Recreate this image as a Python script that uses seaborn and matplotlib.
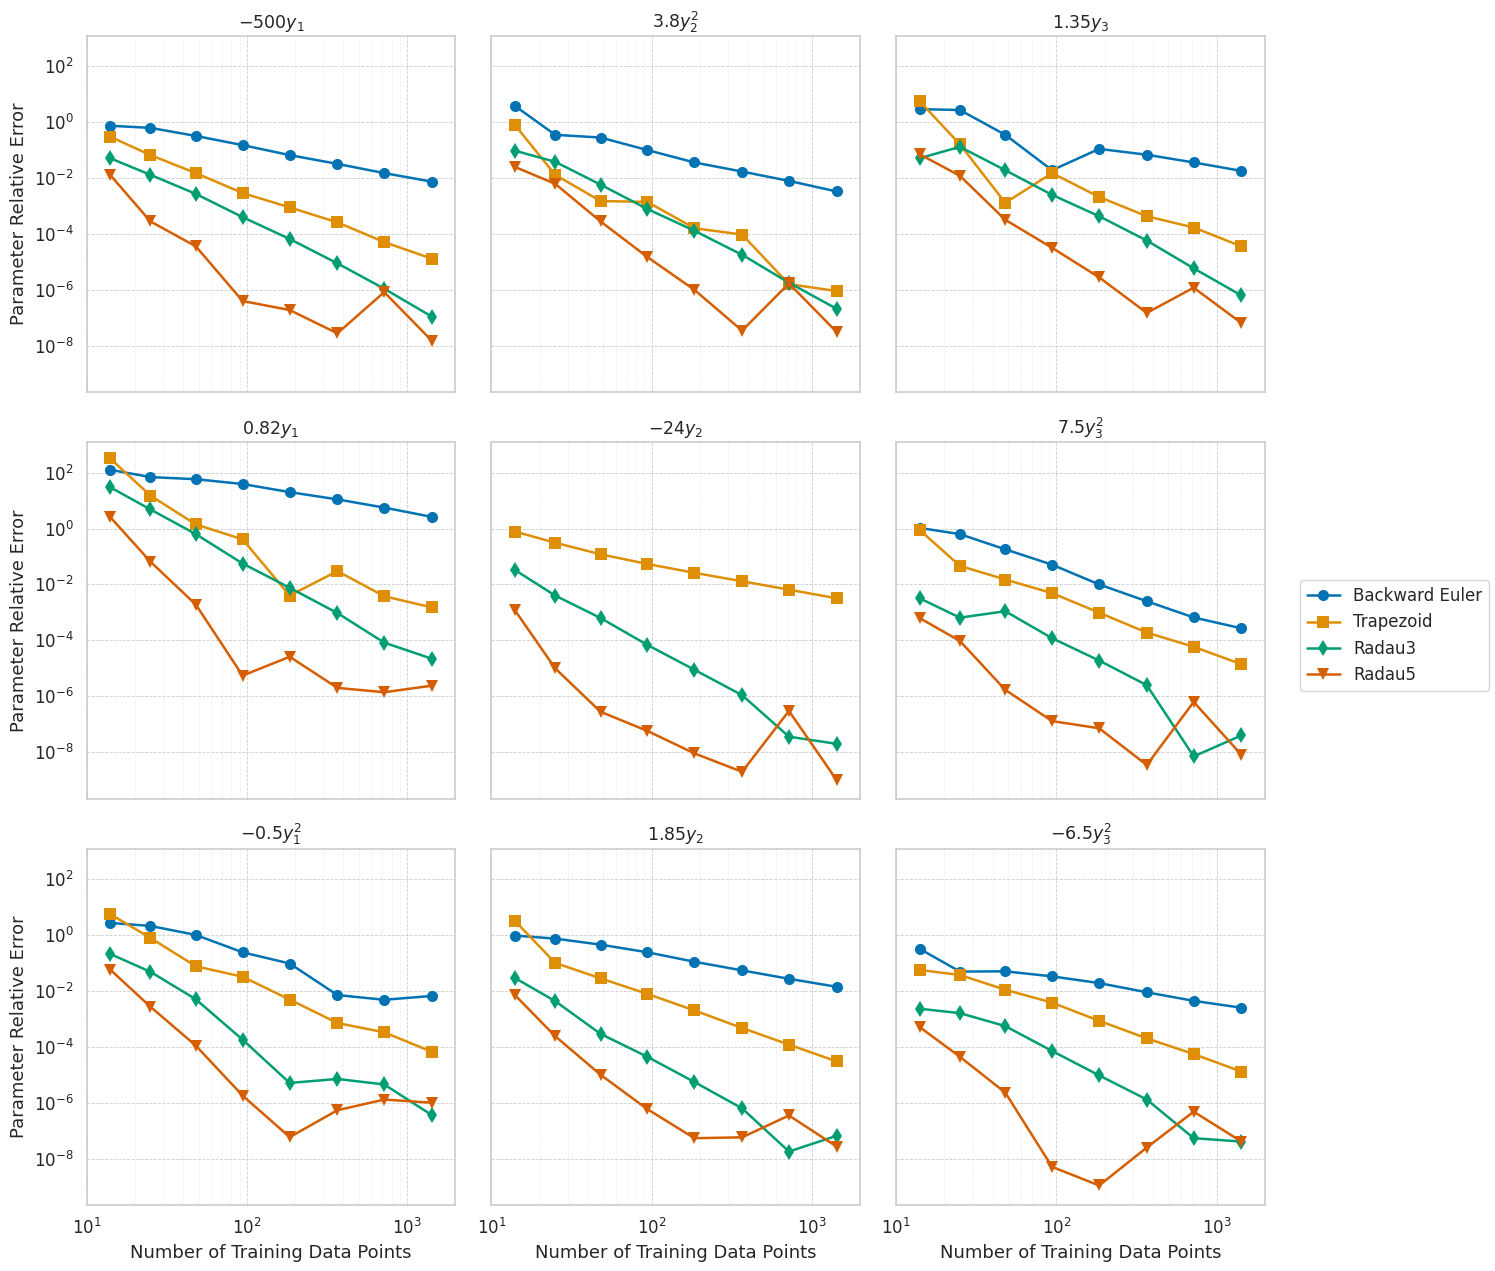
import numpy as np
import seaborn as sns
import matplotlib
matplotlib.use('Agg')
import matplotlib.pyplot as plt

n_points = [14, 25, 48, 94, 185, 367, 720, 1430]
methods = ['Backward Euler', 'Trapezoid', 'Radau3', 'Radau5']
markers = ['o', 's', 'd', 'v']
titles = [r'$-500y_1$', r'$3.8y_2^2$', r'$1.35y_3$',
          r'$0.82y_1$', r'$-24y_2$', r'$7.5y_3^2$',
          r'$-0.5y_1^2$', r'$1.85y_2$', r'$-6.5y_3^2$']
nan = np.nan

# errors per panel: backward euler, trapezoid, radau3, radau5
err_p1 = [[7.4e-1, 6.2e-1, 3.2e-1, 1.5e-1, 6.6e-2, 3.2e-2, 1.5e-2, 7.4e-3],
          [3.0e-1, 6.6e-2, 1.5e-2, 2.9e-3, 8.9e-4, 2.6e-4, 5.1e-5, 1.3e-5],
          [5.1e-2, 1.3e-2, 2.7e-3, 4.0e-4, 6.6e-5, 8.9e-6, 1.1e-6, 1.1e-7],
          [1.3e-2, 2.8e-4, 3.6e-5, 4.0e-7, 1.9e-7, 2.8e-8, 8.3e-7, 1.5e-8]]
err_p2 = [[3.8e0, 3.5e-1, 2.8e-1, 1.0e-1, 3.6e-2, 1.7e-2, 7.9e-3, 3.3e-3],
          [7.9e-1, 1.3e-2, 1.5e-3, 1.4e-3, 1.6e-4, 9.5e-5, 1.6e-6, 9.1e-7],
          [9.5e-2, 3.8e-2, 5.8e-3, 7.8e-4, 1.3e-4, 1.8e-5, 1.8e-6, 2.1e-7],
          [2.5e-2, 6.2e-3, 2.8e-4, 1.5e-5, 1.0e-6, 3.5e-8, 1.7e-6, 3.1e-8]]
err_p3 = [[2.9e0, 2.7e0, 3.5e-1, 1.9e-2, 1.1e-1, 6.8e-2, 3.6e-2, 1.8e-2],
          [5.6e0, 1.6e-1, 1.3e-3, 1.5e-2, 2.1e-3, 4.3e-4, 1.7e-4, 3.6e-5],
          [5.1e-2, 1.3e-1, 1.9e-2, 2.5e-3, 4.3e-4, 5.8e-5, 5.9e-6, 6.3e-7],
          [7.1e-2, 1.2e-2, 3.2e-4, 3.2e-5, 2.8e-6, 1.5e-7, 1.2e-6, 6.5e-8]]
err_p4 = [[1.26e2, 6.9e1, 5.8e1, 3.9e1, 2.0e1, 1.1e1, 5.6e0, 2.6e0],
          [3.2e2, 1.5e1, 1.4e0, 4.1e-1, 4.0e-3, 3.0e-2, 3.8e-3, 1.5e-3],
          [3.0e1, 4.8e0, 6.3e-1, 5.6e-2, 7.6e-3, 9.5e-4, 8.3e-5, 2.2e-5],
          [2.6e0, 6.5e-2, 1.9e-3, 5.5e-6, 2.6e-5, 2.0e-6, 1.4e-6, 2.4e-6]]
err_p5 = [[nan, nan, nan, nan, nan, nan, nan, nan],
          [7.8e-1, 3.1e-1, 1.2e-1, 5.4e-2, 2.6e-2, 1.3e-2, 6.5e-3, 3.2e-3],
          [3.3e-2, 4.0e-3, 6.3e-4, 6.9e-5, 8.9e-6, 1.1e-6, 3.6e-8, 2.0e-8],
          [1.2e-3, 1.0e-5, 2.8e-7, 5.8e-8, 9.1e-9, 2.0e-9, 3.0e-7, 1.0e-9]]
err_p6 = [[1.05e0, 6.3e-1, 1.8e-1, 5.1e-2, 1.0e-2, 2.5e-3, 6.6e-4, 2.7e-4],
          [8.9e-1, 4.6e-2, 1.5e-2, 4.9e-3, 9.8e-4, 1.9e-4, 5.9e-5, 1.4e-5],
          [3.2e-3, 6.5e-4, 1.1e-3, 1.2e-4, 1.9e-5, 2.5e-6, 7.1e-9, 4.0e-8],
          [6.3e-4, 9.5e-5, 1.7e-6, 1.3e-7, 7.2e-8, 3.5e-9, 6.3e-7, 8.1e-9]]
err_p7 = [[2.7e0, 2.1e0, 1.0e0, 2.4e-1, 9.5e-2, 7.1e-3, 4.8e-3, 6.6e-3],
          [5.6e0, 7.8e-1, 7.6e-2, 3.2e-2, 4.9e-3, 7.1e-4, 3.3e-4, 6.6e-5],
          [2.1e-1, 4.8e-2, 5.0e-3, 1.8e-4, 5.1e-6, 7.1e-6, 4.5e-6, 3.6e-7],
          [5.8e-2, 2.7e-3, 1.1e-4, 1.8e-6, 5.9e-8, 5.4e-7, 1.3e-6, 1.0e-6]]
err_p8 = [[9.5e-1, 7.4e-1, 4.5e-1, 2.4e-1, 1.1e-1, 5.4e-2, 2.7e-2, 1.4e-2],
          [3.2e0, 1.0e-1, 2.8e-2, 7.8e-3, 2.0e-3, 4.7e-4, 1.2e-4, 3.0e-5],
          [2.9e-2, 4.3e-3, 2.9e-4, 4.4e-5, 5.5e-6, 6.3e-7, 1.8e-8, 6.6e-8],
          [7.1e-3, 2.4e-4, 1.0e-5, 5.9e-7, 5.4e-8, 5.8e-8, 3.5e-7, 2.7e-8]]
err_p9 = [[3.2e-1, 4.9e-2, 5.0e-2, 3.3e-2, 1.9e-2, 8.9e-3, 4.4e-3, 2.5e-3],
          [5.6e-2, 3.7e-2, 1.1e-2, 3.8e-3, 8.5e-4, 2.0e-4, 5.5e-5, 1.3e-5],
          [2.3e-3, 1.6e-3, 5.5e-4, 7.1e-5, 9.5e-6, 1.3e-6, 5.4e-8, 4.1e-8],
          [5.1e-4, 4.4e-5, 2.3e-6, 5.1e-9, 1.1e-9, 2.5e-8, 4.8e-7, 4.1e-8]]
panels = [err_p1, err_p2, err_p3, err_p4, err_p5, err_p6, err_p7, err_p8, err_p9]

sns.set_theme(style='whitegrid')
colors = sns.color_palette('colorblind', 4)

fig, axes = plt.subplots(3, 3, figsize=(14.95, 12.71), sharex=True, sharey=True)
plt.subplots_adjust(left=0.058, right=0.846, top=0.9717, bottom=0.0519,
                    wspace=0.098, hspace=0.141)

for k, ax in enumerate(axes.flat):
    errs = panels[k]
    for j, name in enumerate(methods):
        y = np.array(errs[j])
        if np.all(np.isnan(y)):
            continue
        sns.lineplot(x=n_points, y=y, ax=ax, color=colors[j], marker=markers[j],
                     markersize=8, markeredgewidth=0, linewidth=1.8, label=name,
                     legend=False)
    ax.set_xscale('log')
    ax.set_yscale('log')
    ax.set_title(titles[k], fontsize=12.5)
    ax.grid(True, which='major', linestyle='--', linewidth=0.6, color='#cccccc')
    ax.grid(True, which='minor', axis='x', linestyle=':', linewidth=0.5, color='#dddddd')
    for s in ax.spines.values():
        s.set_color('#cccccc')
        s.set_linewidth(1.2)
    if k % 3 == 0:
        ax.set_ylabel('Parameter Relative Error', fontsize=13)
    if k >= 6:
        ax.set_xlabel('Number of Training Data Points', fontsize=13)
    ax.tick_params(labelsize=12)

axes[0, 0].set_xlim(10, 2000)
axes[0, 0].set_ylim(2.2e-10, 1.2e3)
axes[0, 0].set_yticks([1e-8, 1e-6, 1e-4, 1e-2, 1e0, 1e2])
axes[0, 0].yaxis.set_minor_locator(matplotlib.ticker.NullLocator())

handles, labels = axes[0, 0].get_legend_handles_labels()
fig.legend(handles, labels, loc='center left', bbox_to_anchor=(0.864, 0.5),
           fontsize=12, frameon=True)

plt.savefig('out.png', dpi=100)
